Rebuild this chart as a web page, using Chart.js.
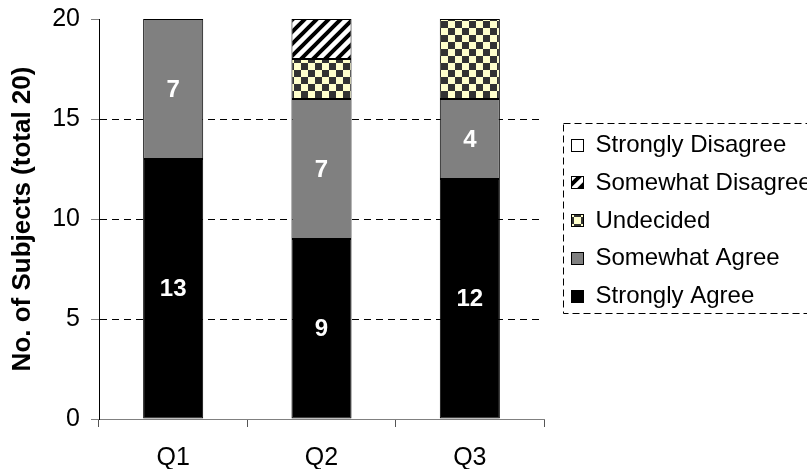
<!DOCTYPE html>
<html>
<head>
<meta charset="utf-8">
<script src="https://cdn.jsdelivr.net/npm/chart.js@4.4.1/dist/chart.umd.min.js"></script>
<style>
  html, body { margin: 0; padding: 0; background: #fff; overflow: hidden; }
  #wrap { width: 807px; height: 469px; }
</style>
</head>
<body>
<div id="wrap"><canvas id="c" width="807" height="469"></canvas></div>
<script>
// Responses per question (number of subjects, total 20)
const questions = ['Q1', 'Q2', 'Q3'];
const stronglyAgree = [13, 9, 12];
const somewhatAgree = [7, 7, 4];
const undecided = [0, 2, 4];
const somewhatDisagree = [0, 2, 0];
const stronglyDisagree = [0, 0, 0];
const yTicks = [0, 5, 10, 15, 20];
const yTitle = 'No. of Subjects (total 20)';

const FONT = '"Liberation Sans", Arial, Helvetica, sans-serif';

// Fill patterns
function checkerPattern() {
  const s = 7;
  const c = document.createElement('canvas');
  c.width = s * 2; c.height = s * 2;
  const g = c.getContext('2d');
  g.fillStyle = '#ffffcc';
  g.fillRect(0, 0, s * 2, s * 2);
  g.fillStyle = '#333333';
  g.fillRect(0, 0, s, s);
  g.fillRect(s, s, s, s);
  return document.getElementById('c').getContext('2d').createPattern(c, 'repeat');
}
function hatchPattern() {
  const s = 12;
  const c = document.createElement('canvas');
  c.width = s; c.height = s;
  const g = c.getContext('2d');
  g.fillStyle = '#ffffff';
  g.fillRect(0, 0, s, s);
  g.strokeStyle = '#000000';
  g.lineWidth = 4;
  g.beginPath();
  g.moveTo(-s, s); g.lineTo(s, -s);
  g.moveTo(0, s * 2); g.lineTo(s * 2, 0);
  g.moveTo(-s, s * 2); g.lineTo(s * 2, -s);
  g.stroke();
  return document.getElementById('c').getContext('2d').createPattern(c, 'repeat');
}

// White value labels inside the two "agree" segments
const segmentLabels = {
  id: 'segmentLabels',
  afterDatasetsDraw(chart) {
    const ctx = chart.ctx;
    ctx.save();
    ctx.font = 'bold 24px ' + FONT;
    ctx.fillStyle = '#ffffff';
    ctx.textAlign = 'center';
    ctx.textBaseline = 'middle';
    [0, 1].forEach(di => {
      const meta = chart.getDatasetMeta(di);
      meta.data.forEach((bar, i) => {
        const v = chart.data.datasets[di].data[i];
        if (!v) return;
        const p = bar.getProps(['x', 'y', 'base'], true);
        ctx.fillText(String(v), p.x, (p.y + p.base) / 2 + 1);
      });
    });
    ctx.restore();
  }
};

// Legend in a dashed frame to the right of the plot
const framedLegend = {
  id: 'framedLegend',
  afterDraw(chart) {
    const ctx = chart.ctx;
    const area = chart.chartArea;
    const left = Math.round(area.right + 19) + 0.5;
    const top = 123.5;
    const items = chart.data.datasets.slice().reverse();
    ctx.save();
    ctx.lineWidth = 1;
    ctx.strokeStyle = '#000';
    ctx.setLineDash([7, 4]);
    ctx.strokeRect(left, top, 320, 190);
    ctx.setLineDash([]);
    ctx.font = '24px ' + FONT;
    ctx.textBaseline = 'middle';
    ctx.textAlign = 'left';
    items.forEach((d, k) => {
      const cy = top + 21 + k * 37.75;
      const by = Math.round(cy - 6) + 0.5;
      ctx.fillStyle = d.backgroundColor;
      ctx.fillRect(left + 8, by, 12, 12);
      ctx.strokeStyle = '#000';
      ctx.strokeRect(left + 8, by, 12, 12);
      ctx.fillStyle = '#000';
      ctx.fillText(d.label, left + 32, cy + 1);
    });
    ctx.restore();
  }
};

Chart.defaults.font.family = FONT;
Chart.defaults.font.size = 25;
Chart.defaults.color = '#000';

const common = { borderColor: '#000', borderWidth: 1, borderSkipped: false, barPercentage: 0.405, categoryPercentage: 1 };

new Chart(document.getElementById('c'), {
  type: 'bar',
  data: {
    labels: questions,
    datasets: [
      Object.assign({ label: 'Strongly Agree', data: stronglyAgree, backgroundColor: '#000000' }, common),
      Object.assign({ label: 'Somewhat Agree', data: somewhatAgree, backgroundColor: '#808080' }, common),
      Object.assign({ label: 'Undecided', data: undecided, backgroundColor: checkerPattern() }, common),
      Object.assign({ label: 'Somewhat Disagree', data: somewhatDisagree, backgroundColor: hatchPattern() }, common),
      Object.assign({ label: 'Strongly Disagree', data: stronglyDisagree, backgroundColor: '#ffffff' }, common)
    ]
  },
  options: {
    responsive: false,
    animation: false,
    devicePixelRatio: 1,
    layout: { padding: { top: 19, right: 263, bottom: 0, left: 0 } },
    plugins: { legend: { display: false }, tooltip: { enabled: false } },
    scales: {
      x: {
        stacked: true,
        offset: true,
        grid: { display: true, offset: true, drawOnChartArea: false, drawTicks: true, tickLength: 8, tickColor: '#555', tickBorderDash: [] },
        border: { display: true, color: '#808080', width: 1 },
        ticks: { padding: 16, font: { size: 25 }, color: '#000' },
        afterFit(scale) { scale.height = 50; }
      },
      y: {
        stacked: true,
        min: yTicks[0],
        max: yTicks[yTicks.length - 1],
        ticks: { stepSize: yTicks[1] - yTicks[0], padding: 11, font: { size: 25 }, color: '#000' },
        grid: {
          drawTicks: true,
          tickLength: 8,
          tickColor: '#808080',
          tickBorderDash: [],
          lineWidth: 1,
          color: ctx => (ctx.tick && ctx.tick.value > yTicks[0] && ctx.tick.value < yTicks[yTicks.length - 1]) ? '#000' : 'rgba(0,0,0,0)'
        },
        border: { display: true, color: '#000', width: 1, dash: [7, 5] },
        title: { display: true, text: yTitle, font: { size: 26, weight: 'bold' }, color: '#000', padding: { top: 7, bottom: 0 } },
        afterFit(scale) {
          scale.width = 99;
          scale.paddingTop = 0;
          scale.paddingBottom = 0;
        }
      }
    }
  },
  plugins: [segmentLabels, framedLegend]
});
</script>
</body>
</html>
